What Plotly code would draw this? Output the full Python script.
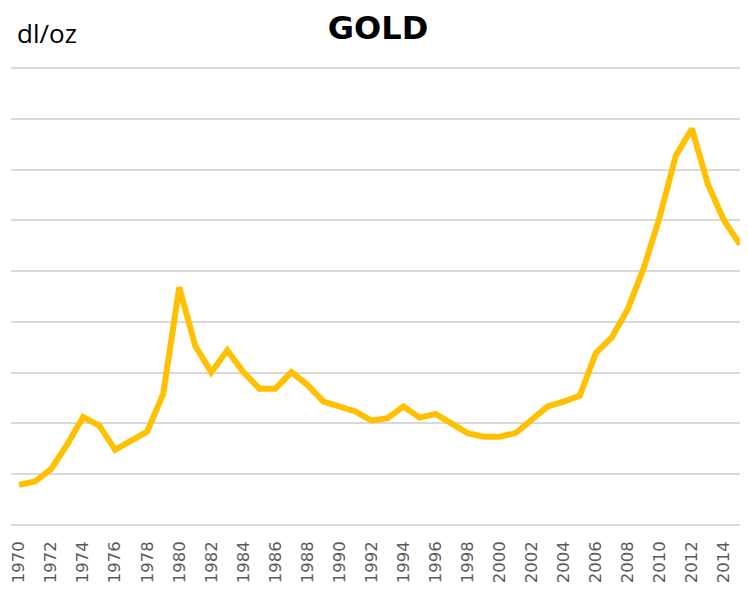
import plotly.graph_objects as go

years = list(range(1970, 2016))
gold_price = [158, 171, 220, 316, 425, 392, 296, 329, 368, 516,
              936, 706, 601, 688, 602, 537, 537, 602, 552, 486,
              467, 447, 411, 421, 467, 423, 437, 398, 362, 348,
              348, 362, 412, 467, 486, 509, 677, 739, 851, 1013,
              1216, 1456, 1561, 1341, 1200, 1105]
tick_years = list(range(1970, 2015, 2))
tick_labels = [str(y) for y in tick_years]

fig = go.Figure()
fig.add_trace(go.Scatter(
    x=years, y=gold_price, mode="lines",
    line=dict(color="#FFC000", width=6),
    hoverinfo="x+y", showlegend=False, cliponaxis=False,
))

fig.update_layout(
    width=740, height=589,
    margin=dict(l=3, r=0, t=58, b=70, autoexpand=False),
    paper_bgcolor="white", plot_bgcolor="white",
    title=dict(text="<b>GOLD</b>", x=0.5, xanchor="center", y=0.966, yanchor="middle",
               pad=dict(t=0, b=0, l=0, r=0),
               font=dict(family="DejaVu Sans", size=32, color="#000000")),
    xaxis=dict(range=[1969.5, 2015.5], tickmode="array", tickvals=tick_years,
               ticktext=tick_labels, tickangle=-90, showgrid=False, zeroline=False,
               showline=False, ticks="", ticklabelstandoff=10, automargin=False,
               ticklabeloverflow="allow",
               tickfont=dict(family="DejaVu Sans", size=16.5, color="#595959")),
    yaxis=dict(range=[-8, 1808], dtick=200, tick0=0, showticklabels=False,
               showgrid=True, gridcolor="#D9D9D9", gridwidth=2, automargin=False,
               zeroline=False, showline=False, ticks=""),
    annotations=[dict(text="dl/oz", xref="paper", yref="paper", x=0.0, y=1.0,
                      xanchor="left", yanchor="bottom", showarrow=False, xshift=4, yshift=13,
                      font=dict(family="Open Sans", size=26, color="#000000"))],
)

fig.write_html("out.html")
